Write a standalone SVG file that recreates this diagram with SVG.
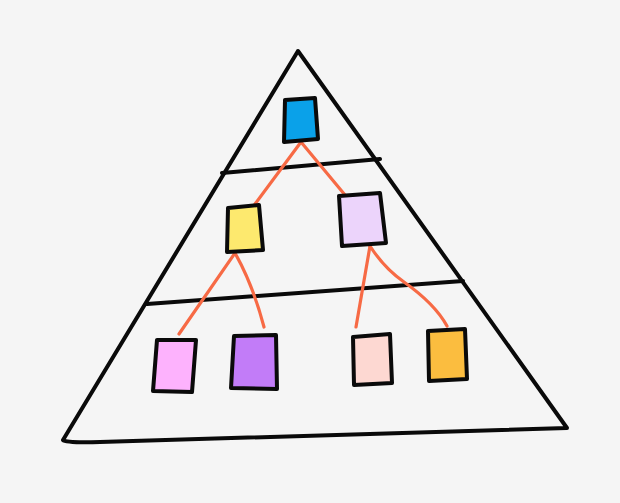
<svg xmlns="http://www.w3.org/2000/svg" width="620" height="503" viewBox="0 0 620 503">
<style>
.ink{fill:none;stroke:#0a0a0a;stroke-width:4;stroke-linecap:round;stroke-linejoin:round}
.box{stroke:#0a0a0a;stroke-width:4;stroke-linejoin:round}
.con{fill:none;stroke:#f76a45;stroke-width:3.2;stroke-linecap:round;stroke-linejoin:round}
</style>
<rect width="620" height="503" fill="#f5f5f5"/>
<g id="pyramid">
<path class="ink" d="M298,51 L63,440 Q66,443 100,442 L567,428 Z"/>
<path class="ink" d="M222,173 L380,159"/>
<path class="ink" d="M147,304 L463,281"/>
</g>
<g id="connectors">
<path class="con" d="M301,142 L255,204"/>
<path class="con" d="M301,142 L345,195"/>
<path class="con" d="M235,253 L179,334"/>
<path class="con" d="M235,253 Q253,285 264,327"/>
<path class="con" d="M370,246 L356,327"/>
<path class="con" d="M370,246 Q384,268 404,282 Q435,304 447,326"/>
</g>
<g id="n-top"><path class="box" fill="#0aa1e9" d="M285,100 L315,98 L318,139 L284,142 Z"/></g>
<g id="n-mid-left"><path class="box" fill="#fde96e" d="M228,208 L259,205 L263,250 L227,252 Z"/></g>
<g id="n-mid-right"><path class="box" fill="#ecd4fb" d="M339,196 L380,193 L386,243 L342,246 Z"/></g>
<g id="n-b1"><path class="box" fill="#fdb2fd" d="M157,340 L196,340 L192,392 L153,391 Z"/></g>
<g id="n-b2"><path class="box" fill="#c27cf8" d="M234,336 L276,335 L277,389 L231,388 Z"/></g>
<g id="n-b3"><path class="box" fill="#fdd8d2" d="M353,337 L390,334 L392,383 L354,385 Z"/></g>
<g id="n-b4"><path class="box" fill="#fbbd3f" d="M428,331 L465,329 L467,379 L429,381 Z"/></g>
</svg>
